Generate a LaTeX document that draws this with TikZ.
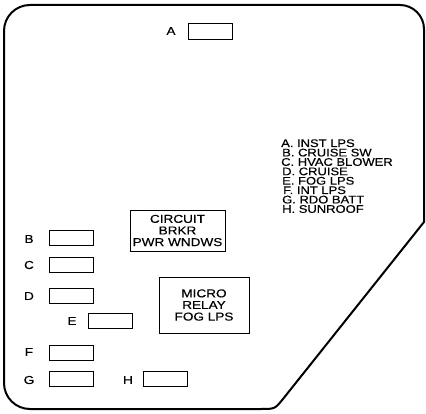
\documentclass[tikz,border=0pt]{standalone}
\usepackage{fontspec}
\newfontfamily\wfont[FakeStretch=1.18,FakeBold=0.4]{Liberation Sans}
\begin{document}
\begin{tikzpicture}[x=1pt,y=-1pt,
  outline/.style={line width=2pt,line join=round},
  fuse/.style={draw,line width=0.8pt,minimum width=44pt,minimum height=15pt,inner sep=0pt},
  bigbox/.style={draw,line width=0.8pt,inner sep=0pt,align=center,font=\wfont\fontsize{11.5}{11.6}\selectfont},
  letter/.style={inner sep=0pt,font=\wfont\fontsize{11.5}{11.5}\selectfont},
  legend/.style={inner sep=0pt,anchor=base west,text height=7.8pt,text depth=0pt,font=\wfont\fontsize{11}{11}\selectfont}]
\useasboundingbox (0,0) rectangle (426,414);
% outline
\draw[outline] (4,31) .. controls (4,16.6) and (15.6,5) .. (30,5)
  -- (400,5) .. controls (413.2,5) and (424,15.8) .. (424,29)
  -- (424,222) -- (283.7,398.1) .. controls (275,409) .. (261,409)
  -- (30,409) .. controls (15.6,409) and (4,397.4) .. (4,383) -- cycle;
% fuses
\node[fuse,minimum height=16pt] (fA) at (210,31) {};
\node[fuse] (fB) at (71,238) {};
\node[fuse] (fC) at (71,265) {};
\node[fuse] (fD) at (71,296) {};
\node[fuse] (fE) at (110.5,320.5) {};
\node[fuse] (fF) at (71,352.5) {};
\node[fuse] (fG) at (71,379) {};
\node[fuse] (fH) at (165,379) {};
% letters
\node[letter] (tA) at (171,31) {A};
\node[letter] (tB) at (29,239) {B};
\node[letter] (tC) at (29,265) {C};
\node[letter] (tD) at (29,296) {D};
\node[letter] (tE) at (72,321) {E};
\node[letter] (tF) at (29,352) {F};
\node[letter] (tG) at (29,380) {G};
\node[letter] (tH) at (128,380) {H};
% big boxes
\node[bigbox,minimum width=95pt,minimum height=41pt] (cb) at (177.5,230.5) {CIRCUIT\\BRKR\\PWR WNDWS};
\node[bigbox,minimum width=90pt,minimum height=56pt] (mr) at (204,305) {MICRO\\RELAY\\FOG LPS};
% legend
\node[legend] (lA) at (281,147) {A. INST LPS};
\node[legend] (lB) at (282,156.4) {B. CRUISE SW};
\node[legend] (lC) at (281,165.8) {C. HVAC BLOWER};
\node[legend] (lD) at (282,175.2) {D. CRUISE};
\node[legend] (lE) at (282,184.6) {E. FOG LPS};
\node[legend] (lF) at (283,194) {F. INT LPS};
\node[legend] (lG) at (282,203.4) {G. RDO BATT};
\node[legend] (lH) at (282,212.8) {H. SUNROOF};
\end{tikzpicture}
\end{document}
